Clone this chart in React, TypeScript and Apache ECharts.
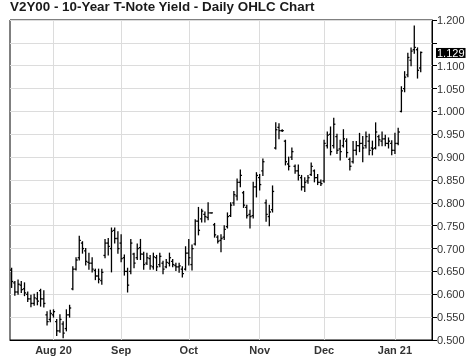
import React, { useEffect, useRef } from "react";
import * as echarts from "echarts";

const TITLE = "V2Y00 - 10-Year T-Note Yield - Daily OHLC Chart";
const START_DATE = "2020-07-15";
const END_DATE = "2021-01-14";
const HOLIDAYS = ["2020-09-07", "2020-11-26", "2020-12-25", "2021-01-01"];
const PAD_SLOTS = 3;
const LAST_PRICE = 1.129;
const Y_MIN = 0.5;
const Y_MAX = 1.2;
const Y_STEP = 0.05;

const opens = [
  0.653, 0.625, 0.605, 0.62, 0.612, 0.6, 0.59, 0.58, 0.59, 0.608,
  0.59, 0.555, 0.545, 0.555, 0.54, 0.52, 0.535, 0.525, 0.555, 0.612,
  0.655, 0.68, 0.712, 0.695, 0.67, 0.668, 0.652, 0.64, 0.63, 0.685,
  0.712, 0.7, 0.74, 0.722, 0.712, 0.68, 0.65, 0.65, 0.688, 0.68,
  0.702, 0.688, 0.668, 0.678, 0.66, 0.68, 0.665, 0.668, 0.66, 0.668,
  0.672, 0.663, 0.66, 0.655, 0.655, 0.69, 0.665, 0.71, 0.76, 0.765,
  0.775, 0.768, 0.778, 0.752, 0.725, 0.718, 0.725, 0.748, 0.772, 0.8,
  0.815, 0.845, 0.822, 0.79, 0.775, 0.772, 0.835, 0.855, 0.87, 0.8,
  0.77, 0.785, 0.92, 0.965, 0.958, 0.935, 0.885, 0.9, 0.88, 0.87,
  0.855, 0.835, 0.848, 0.862, 0.87, 0.855, 0.845, 0.848, 0.925, 0.95,
  0.925, 0.945, 0.918, 0.925, 0.935, 0.895, 0.89, 0.915, 0.925, 0.93,
  0.925, 0.935, 0.92, 0.92, 0.945, 0.935, 0.94, 0.93, 0.93, 0.915,
  0.93, 1.0, 1.05, 1.08, 1.112, 1.135, 1.135, 1.095,
];
const highs = [
  0.657, 0.628, 0.631, 0.628, 0.625, 0.605, 0.598, 0.6, 0.604, 0.611,
  0.608, 0.562, 0.565, 0.566, 0.545, 0.555, 0.54, 0.566, 0.576, 0.66,
  0.68, 0.727, 0.715, 0.7, 0.69, 0.68, 0.655, 0.655, 0.655, 0.72,
  0.722, 0.745, 0.745, 0.737, 0.73, 0.686, 0.657, 0.72, 0.69, 0.71,
  0.72, 0.692, 0.69, 0.685, 0.69, 0.685, 0.69, 0.672, 0.676, 0.69,
  0.676, 0.668, 0.668, 0.66, 0.704, 0.72, 0.708, 0.763, 0.79, 0.786,
  0.78, 0.8, 0.778, 0.755, 0.728, 0.73, 0.75, 0.778, 0.8, 0.825,
  0.852, 0.872, 0.825, 0.795, 0.784, 0.845, 0.866, 0.862, 0.896, 0.806,
  0.795, 0.837, 0.975, 0.973, 0.96, 0.937, 0.9, 0.92, 0.883, 0.883,
  0.86, 0.855, 0.86, 0.887, 0.872, 0.862, 0.85, 0.937, 0.955, 0.966,
  0.985, 0.95, 0.937, 0.96, 0.94, 0.898, 0.934, 0.934, 0.952, 0.945,
  0.955, 0.95, 0.935, 0.975, 0.948, 0.955, 0.948, 0.942, 0.936, 0.952,
  0.963, 1.054, 1.087, 1.127, 1.139, 1.187, 1.139, 1.13,
];
const lows = [
  0.615, 0.598, 0.6, 0.604, 0.597, 0.584, 0.573, 0.576, 0.577, 0.574,
  0.572, 0.533, 0.54, 0.55, 0.51, 0.517, 0.505, 0.52, 0.55, 0.61,
  0.653, 0.675, 0.69, 0.664, 0.655, 0.649, 0.632, 0.625, 0.622, 0.68,
  0.686, 0.649, 0.712, 0.69, 0.671, 0.642, 0.605, 0.645, 0.658, 0.676,
  0.676, 0.655, 0.665, 0.655, 0.655, 0.652, 0.66, 0.645, 0.658, 0.662,
  0.66, 0.652, 0.648, 0.638, 0.653, 0.664, 0.653, 0.708, 0.73, 0.758,
  0.758, 0.763, 0.778, 0.725, 0.712, 0.693, 0.72, 0.745, 0.77, 0.795,
  0.806, 0.835, 0.79, 0.767, 0.745, 0.767, 0.813, 0.828, 0.86, 0.76,
  0.75, 0.78, 0.918, 0.94, 0.956, 0.883, 0.872, 0.895, 0.865, 0.85,
  0.828, 0.825, 0.843, 0.86, 0.846, 0.84, 0.838, 0.845, 0.92, 0.905,
  0.92, 0.908, 0.894, 0.922, 0.9, 0.872, 0.887, 0.905, 0.912, 0.89,
  0.92, 0.905, 0.905, 0.918, 0.925, 0.925, 0.925, 0.92, 0.905, 0.908,
  0.927, 0.999, 1.043, 1.076, 1.1, 1.127, 1.073, 1.087,
];
const closes = [
  0.628, 0.605, 0.622, 0.61, 0.603, 0.59, 0.58, 0.592, 0.585, 0.59,
  0.58, 0.54, 0.558, 0.562, 0.52, 0.545, 0.515, 0.555, 0.57, 0.655,
  0.675, 0.718, 0.7, 0.672, 0.668, 0.655, 0.64, 0.633, 0.648, 0.712,
  0.705, 0.738, 0.722, 0.7, 0.678, 0.65, 0.62, 0.712, 0.668, 0.7,
  0.688, 0.665, 0.68, 0.662, 0.682, 0.66, 0.683, 0.655, 0.67, 0.68,
  0.665, 0.66, 0.662, 0.645, 0.69, 0.68, 0.7, 0.76, 0.74, 0.782,
  0.77, 0.778, 0.778, 0.73, 0.716, 0.722, 0.742, 0.77, 0.795, 0.818,
  0.845, 0.86, 0.795, 0.772, 0.77, 0.835, 0.86, 0.84, 0.89, 0.775,
  0.78, 0.825, 0.96, 0.958, 0.958, 0.89, 0.88, 0.912, 0.87, 0.86,
  0.835, 0.845, 0.855, 0.88, 0.855, 0.845, 0.842, 0.93, 0.948, 0.912,
  0.972, 0.915, 0.912, 0.94, 0.91, 0.88, 0.915, 0.925, 0.93, 0.92,
  0.945, 0.915, 0.918, 0.955, 0.938, 0.94, 0.93, 0.935, 0.915, 0.93,
  0.955, 1.045, 1.075, 1.118, 1.132, 1.14, 1.09, 1.129,
];

const MONTHS = ["Jan", "Feb", "Mar", "Apr", "May", "Jun", "Jul", "Aug", "Sep", "Oct", "Nov", "Dec"];

function buildTradingDays(): string[] {
  const out: string[] = [];
  const d = new Date(START_DATE + "T12:00:00Z");
  const end = new Date(END_DATE + "T12:00:00Z");
  while (d <= end) {
    const wd = d.getUTCDay();
    const iso = d.toISOString().slice(0, 10);
    if (wd !== 0 && wd !== 6 && HOLIDAYS.indexOf(iso) < 0) out.push(iso);
    d.setUTCDate(d.getUTCDate() + 1);
  }
  return out;
}

export default function App() {
  const ref = useRef<HTMLDivElement>(null);
  useEffect(() => {
    if (!ref.current) return;
    const chart = echarts.init(ref.current, undefined, { renderer: "svg" });
    const days = buildTradingDays();
    const cats = days.slice();
    for (let i = 0; i < PAD_SLOTS; i++) cats.push(" ".repeat(i + 1));

    const isMonthStart = (idx: number) => {
      if (idx >= days.length) return false;
      if (idx === 0) return false;
      return days[idx].slice(5, 7) !== days[idx - 1].slice(5, 7);
    };
    const monthLabel = (val: string) => {
      if (!val || val.trim() === "") return "";
      const m = parseInt(val.slice(5, 7), 10) - 1;
      const y = val.slice(2, 4);
      if (m === 0 || m === 7) return MONTHS[m] + " " + y;
      return MONTHS[m];
    };

    const data = days.map((_, i) => [i, opens[i], highs[i], lows[i], closes[i]]);
    const vlines = days.filter((_, i) => isMonthStart(i)).map((d) => ({ xAxis: d }));

    const font = "'Liberation Sans', Arial, sans-serif";
    const option: any = {
      animation: false,
      title: {
        text: TITLE,
        left: 10,
        top: 0,
        padding: 0,
        textStyle: { fontSize: 13.4, fontWeight: "bold", color: "#1a1a1a", fontFamily: font },
      },
      grid: {
        left: 10,
        right: 42,
        top: 20,
        bottom: 21,
        show: true,
        borderColor: "#000",
        borderWidth: 1,
        backgroundColor: "#fff",
      },
      xAxis: {
        type: "category",
        data: cats,
        boundaryGap: true,
        axisLine: { show: true, lineStyle: { color: "#000", width: 1 } },
        axisTick: { show: false },
        splitLine: { show: false },
        axisLabel: {
          interval: (idx: number) => isMonthStart(idx),
          formatter: (v: string) => monthLabel(v),
          fontSize: 11,
          fontWeight: "bold",
          color: "#333",
          fontFamily: font,
          margin: 4,
        },
      },
      yAxis: {
        type: "value",
        position: "right",
        min: Y_MIN,
        max: Y_MAX,
        interval: Y_STEP,
        axisLine: { show: true, lineStyle: { color: "#000", width: 1 } },
        axisTick: { show: true, length: 5, lineStyle: { color: "#000" } },
        splitLine: { show: true, lineStyle: { color: "#dcdcdc", width: 1 } },
        axisLabel: {
          fontSize: 11,
          color: "#333",
          fontFamily: font,
          margin: 5,
          formatter: (v: number) => (Math.abs(v - 1.15) < 1e-6 ? "" : v.toFixed(3)),
        },
      },
      series: [
        {
          type: "line",
          data: [],
          silent: true,
          z: 1,
          markLine: {
            silent: true,
            symbol: ["none", "none"],
            label: { show: false },
            lineStyle: { color: "#dcdcdc", width: 1, type: "solid" },
            data: vlines,
          },
        },
        {
          type: "custom",
          z: 5,
          data,
          encode: { x: 0, y: [1, 2, 3, 4] },
          renderItem: (params: any, api: any) => {
            const i = api.value(0);
            const o = api.coord([i, api.value(1)]);
            const h = api.coord([i, api.value(2)]);
            const l = api.coord([i, api.value(3)]);
            const c = api.coord([i, api.value(4)]);
            const w = api.size([1, 0])[0] * 0.5;
            const px = o[0];
            const st = { stroke: "#000", lineWidth: 1.3 };
            return {
              type: "group",
              children: [
                { type: "line", shape: { x1: px, y1: h[1] - 0.5, x2: px, y2: l[1] + 0.5 }, style: st },
                { type: "line", shape: { x1: px - w, y1: o[1], x2: px, y2: o[1] }, style: st },
                { type: "line", shape: { x1: px, y1: c[1], x2: px + w, y2: c[1] }, style: st },
              ],
            };
          },
        },
      ],
    };
    chart.setOption(option);
    const py = chart.convertToPixel({ yAxisIndex: 0 }, LAST_PRICE) as number;
    chart.setOption({
      graphic: [
        {
          type: "text",
          left: 436,
          top: py - 5,
          z: 100,
          style: {
            text: LAST_PRICE.toFixed(3),
            fill: "#fff",
            backgroundColor: "#000",
            font: "11px " + font,
            lineHeight: 10,
            padding: [0, 1, 0, 1],
          },
        },
      ],
    });
    return () => chart.dispose();
  }, []);
  return <div ref={ref} style={{ position: "fixed", left: 0, top: 0, width: 474, height: 361 }} />;
}
